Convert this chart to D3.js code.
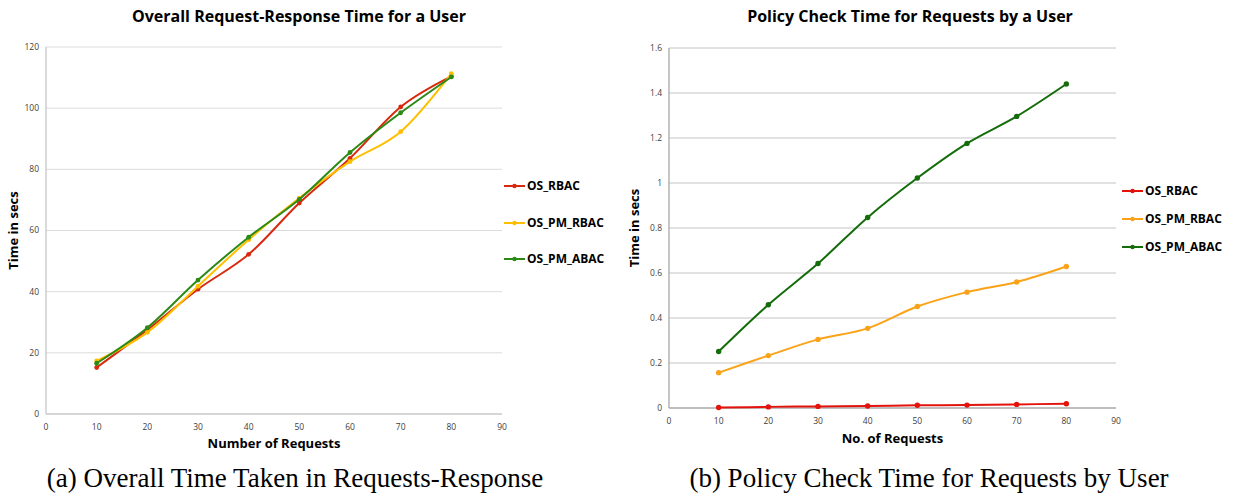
<!DOCTYPE html>
<html>
<head>
<meta charset="utf-8">
<script src="https://cdn.jsdelivr.net/npm/d3@7"></script>
<style>
  body { margin: 0; background: #fff; }
  svg { display: block; }
  .tick-label { font-family: "Open Sans", sans-serif; font-size: 8.5px; fill: #404040; }
  .chart-title { font-family: "Open Sans", sans-serif; font-weight: bold; font-size: 16px; fill: #000; }
  .axis-title { font-family: "Open Sans", sans-serif; font-weight: bold; font-size: 13px; fill: #000; }
  .legend-label { font-family: "Open Sans", sans-serif; font-weight: bold; font-size: 12px; fill: #000; }
  .caption { font-family: "Liberation Serif", "Times New Roman", serif; font-size: 27px; fill: #000; }
</style>
</head>
<body>
<svg id="fig" width="1237" height="496"></svg>
<script>
// ---------- data ----------
const requests = [10, 20, 30, 40, 50, 60, 70, 80];
const seriesNames = ["OS_RBAC", "OS_PM_RBAC", "OS_PM_ABAC"];

// (a) overall request-response time, secs
const overallRBAC   = [15.2, 27.5, 40.8, 52.2, 69.0, 83.6, 100.4, 110.4];
const overallPMRBAC = [17.4, 26.7, 41.8, 57.0, 70.6, 82.5, 92.3, 111.3];
const overallPMABAC = [16.6, 28.2, 43.8, 57.8, 70.2, 85.5, 98.5, 110.2];

// (b) policy check time, secs
const policyRBAC   = [0.002, 0.005, 0.007, 0.009, 0.012, 0.013, 0.016, 0.019];
const policyPMRBAC = [0.157, 0.233, 0.305, 0.354, 0.451, 0.515, 0.560, 0.629];
const policyPMABAC = [0.251, 0.459, 0.642, 0.847, 1.022, 1.176, 1.296, 1.440];

const xTicks = [0, 10, 20, 30, 40, 50, 60, 70, 80, 90];
const overallYTicks = [0, 20, 40, 60, 80, 100, 120];
const policyYTicks = [0, 0.2, 0.4, 0.6, 0.8, 1, 1.2, 1.4, 1.6];

const svg = d3.select("#fig");

// ---------- one Excel-style line chart ----------
function drawChart(o) {
  const g = svg.append("g");
  const x = d3.scaleLinear().domain([0, 90]).range([o.left, o.right]);
  const y = d3.scaleLinear().domain([0, d3.max(o.yTicks)]).range([o.bottom, o.top]);

  // gridlines
  g.selectAll(".grid").data(o.yTicks.slice(1)).enter().append("line")
    .attr("x1", o.left).attr("x2", o.right)
    .attr("y1", d => y(d)).attr("y2", d => y(d))
    .attr("stroke", o.gridColor).attr("stroke-width", 1);

  // axes
  g.append("line").attr("x1", o.left).attr("x2", o.right).attr("y1", o.bottom).attr("y2", o.bottom)
    .attr("stroke", o.axisColor).attr("stroke-width", 1.3);
  g.append("line").attr("x1", o.left).attr("x2", o.left).attr("y1", o.bottom).attr("y2", o.top)
    .attr("stroke", o.axisColor).attr("stroke-width", 1.3);

  g.selectAll(".ylab").data(o.yTicks).enter().append("text")
    .attr("class", "tick-label").attr("x", o.left - 7).attr("y", d => y(d)).attr("dy", "0.35em")
    .attr("text-anchor", "end").text(d => d3.format("~g")(d));
  g.selectAll(".xlab").data(xTicks).enter().append("text")
    .attr("class", "tick-label").attr("x", d => x(d)).attr("y", o.bottom + 13)
    .attr("dy", "0.35em").attr("text-anchor", "middle").text(d => d);

  // series
  const line = d3.line().x((d, i) => x(requests[i])).y(d => y(d)).curve(d3.curveCardinal.tension(0));
  o.series.forEach((vals, k) => {
    g.append("path").datum(vals).attr("d", line)
      .attr("fill", "none").attr("stroke", o.colors[k]).attr("stroke-width", 2);
    g.selectAll(null).data(vals).enter().append("circle")
      .attr("cx", (d, i) => x(requests[i])).attr("cy", d => y(d)).attr("r", o.dotR)
      .attr("fill", o.colors[k]);
  });

  // titles
  g.append("text").attr("class", "chart-title").attr("x", o.titleX).attr("y", 22)
    .attr("text-anchor", "middle").text(o.title);
  g.append("text").attr("class", "axis-title")
    .attr("transform", `translate(${o.yTitleX},${(o.top + o.bottom) / 2}) rotate(-90)`)
    .attr("text-anchor", "middle").attr("dy", "0.35em").text("Time in secs");
  g.append("text").attr("class", "axis-title").attr("x", (o.left + o.right) / 2).attr("y", o.xTitleY)
    .attr("text-anchor", "middle").attr("dy", "0.35em").text(o.xTitle);

  // legend
  seriesNames.forEach((name, k) => {
    const ly = o.legendY[k];
    g.append("line").attr("x1", o.legendX).attr("x2", o.legendX + 21).attr("y1", ly).attr("y2", ly)
      .attr("stroke", o.colors[k]).attr("stroke-width", 2);
    g.append("circle").attr("cx", o.legendX + 10.5).attr("cy", ly).attr("r", 2.2).attr("fill", o.colors[k]);
    g.append("text").attr("class", "legend-label").attr("x", o.legendX + 23).attr("y", ly)
      .attr("dy", "0.35em").text(name);
  });

  // caption
  g.append("text").attr("class", "caption").attr("x", o.captionX).attr("y", 487)
    .attr("text-anchor", "middle").text(o.caption);
}

drawChart({
  left: 46, right: 502, top: 47, bottom: 414,
  yTicks: overallYTicks,
  series: [overallRBAC, overallPMRBAC, overallPMABAC],
  colors: ["#d8290f", "#ffbf00", "#2a8a14"],
  dotR: 2.4,
  gridColor: "#dcdcdc", axisColor: "#c8c8c8",
  title: "Overall Request-Response Time for a User", titleX: 299,
  yTitleX: 13, xTitle: "Number of Requests", xTitleY: 443,
  legendX: 504, legendY: [186, 223, 259],
  caption: "(a) Overall Time Taken in Requests-Response", captionX: 295
});

drawChart({
  left: 669, right: 1116, top: 48, bottom: 408,
  yTicks: policyYTicks,
  series: [policyRBAC, policyPMRBAC, policyPMABAC],
  colors: ["#e3120b", "#fba318", "#146c0a"],
  dotR: 2.7,
  gridColor: "#c4c4c4", axisColor: "#a8a8a8",
  title: "Policy Check Time for Requests by a User", titleX: 910,
  yTitleX: 634, xTitle: "No. of Requests", xTitleY: 438,
  legendX: 1122, legendY: [191, 219, 247],
  caption: "(b) Policy Check Time for Requests by User", captionX: 929
});
</script>
</body>
</html>
